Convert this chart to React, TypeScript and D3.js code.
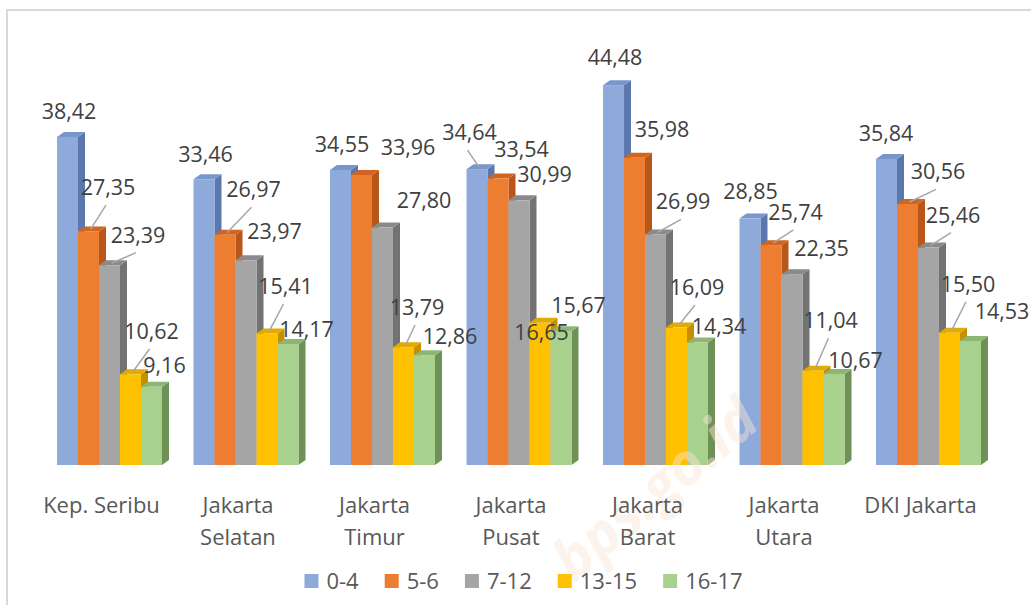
import React from "react";
import * as d3 from "d3";

const categories = ["Kep. Seribu", "Jakarta\nSelatan", "Jakarta\nTimur", "Jakarta\nPusat", "Jakarta\nBarat", "Jakarta\nUtara", "DKI Jakarta"];
const seriesNames = ["0-4", "5-6", "7-12", "13-15", "16-17"];
const s04 = [38.42, 33.46, 34.55, 34.64, 44.48, 28.85, 35.84];
const s56 = [27.35, 26.97, 33.96, 33.54, 35.98, 25.74, 30.56];
const s712 = [23.39, 23.97, 27.8, 30.99, 26.99, 22.35, 25.46];
const s1315 = [10.62, 15.41, 13.79, 16.65, 16.09, 11.04, 15.5];
const s1617 = [9.16, 14.17, 12.86, 15.67, 14.34, 10.67, 14.53];
const seriesValues = [s04, s56, s712, s1315, s1617];

// label placement offsets (relative to bar top centre) and leader-line flags
const labelOffsets: number[][][] = [
  [[1.5, -17.6], [19.5, -36.4], [28.5, -22.6], [21, -35.3], [13, -14]],
  [[1.5, -17.6], [28.5, -37.4], [28.5, -21], [18.5, -39.4], [18.5, -7.3]],
  [[1.5, -18], [46.5, -20], [41.5, -19.3], [13.5, -32.2], [25.5, -11.2]],
  [[-7.5, -29], [23.5, -22], [25.5, -18.6], [1.5, 17.2], [17.5, -18]],
  [[1.5, -20], [27.5, -20.4], [27.5, -25.2], [20.5, -32.6], [21.5, -8.2]],
  [[0.5, -19.3], [24.5, -25.2], [29.5, -18.1], [17.5, -42.4], [21.5, -5.6]],
  [[-0.5, -18.2], [30.5, -24.7], [24.5, -24.9], [18.5, -40.9], [31.5, -21.6]],
];
const leaders = [
  [0, 1, 1, 1, 0],
  [0, 1, 0, 1, 0],
  [0, 0, 0, 1, 0],
  [1, 0, 0, 0, 0],
  [0, 0, 1, 1, 0],
  [0, 1, 0, 1, 0],
  [0, 1, 1, 1, 0],
];

const fronts = ["#8eaadb", "#ed7d31", "#a5a5a5", "#ffc000", "#a9d18e"];
const sides = ["#5a78ae", "#b9561a", "#737373", "#c49000", "#6f9158"];
const tops = ["#7896cc", "#d2641f", "#8a8a8a", "#e3aa00", "#8db673"];

const W = 1031;
const H = 605;
const FONT = "'Open Sans', 'DejaVu Sans', sans-serif";
const DX = 7;
const DY = -5;

function measure(text: string, size: number): number {
  try {
    const c = document.createElement("canvas");
    const ctx = c.getContext("2d");
    if (ctx) {
      ctx.font = `${size}px 'Open Sans'`;
      return ctx.measureText(text).width;
    }
  } catch (e) {}
  return text.length * size * 0.55;
}

export default function App() {
  const step = 136.5;
  const x0 = d3
    .scaleBand<string>()
    .domain(categories)
    .range([41.25, 41.25 + step * categories.length])
    .paddingInner(31.5 / step)
    .paddingOuter(31.5 / step / 2);
  const x1 = d3
    .scaleBand<string>()
    .domain(seriesNames)
    .range([0, x0.bandwidth()])
    .padding(0);
  const y = d3.scaleLinear().domain([0, 50]).range([465, 465 - 50 * 8.54]);

  const legendSize = 22;
  const items = seriesNames.map((n) => 14 + 8 + measure(n, legendSize));
  const gap = 26;
  const totalLegend = d3.sum(items) + gap * (items.length - 1);
  const legendStart = 523.5 - totalLegend / 2;
  const legendX: number[] = [];
  let acc = legendStart;
  items.forEach((w) => {
    legendX.push(acc);
    acc += w + gap;
  });

  const bars: React.ReactNode[] = [];
  const labels: React.ReactNode[] = [];
  categories.forEach((cat, g) => {
    const gx = x0(cat) as number;
    seriesNames.forEach((sn, s) => {
      const v = seriesValues[s][g];
      const bx = gx + (x1(sn) as number);
      const bw = x1.bandwidth();
      const top = y(v);
      const base = y(0);
      const xr = bx + bw;
      bars.push(
        <g key={`b-${g}-${s}`}>
          <polygon
            points={`${xr},${top} ${xr + DX},${top + DY} ${xr + DX},${base + DY} ${xr},${base}`}
            fill={sides[s]}
          />
          <polygon
            points={`${bx},${top} ${xr},${top} ${xr + DX},${top + DY} ${bx + DX},${top + DY}`}
            fill={tops[s]}
          />
          <rect x={bx} y={top} width={bw} height={base - top} fill={fronts[s]} />
        </g>
      );
      const cx = bx + bw / 2;
      const [odx, ody] = labelOffsets[g][s];
      const lx = cx + odx;
      const ly = top + ody;
      if (leaders[g][s]) {
        labels.push(
          <line
            key={`l-${g}-${s}`}
            x1={lx - 2}
            y1={ly + 10}
            x2={cx + 2}
            y2={top - 2}
            stroke="#a6a6a6"
            strokeWidth={1.5}
          />
        );
      }
      labels.push(
        <text
          key={`t-${g}-${s}`}
          x={lx}
          y={ly}
          textAnchor="middle"
          fontFamily={FONT}
          fontSize={21.5}
          fill="#404040"
        >
          {v.toFixed(2).replace(".", ",")}
        </text>
      );
    });
  });

  return (
    <svg
      width={W}
      height={H}
      style={{ position: "absolute", left: 0, top: 0, background: "#ffffff" }}
    >
      <rect x={0} y={0} width={W} height={H} fill="#ffffff" />
      <rect x={7} y={10} width={W + 20} height={H + 20} fill="none" stroke="#d9d9d9" strokeWidth={2} />
      {bars}
      <text
        x={668}
        y={505}
        transform="rotate(-40 668 505)"
        textAnchor="middle"
        fontFamily={FONT}
        fontSize={58}
        fontWeight="bold"
        fontStyle="italic"
        fill="#fbe6d8"
        opacity={0.45}
      >
        bps.go.id
      </text>
      {labels}
      {categories.map((cat) => {
        const cx = (x0(cat) as number) + x0.bandwidth() / 2 - 8;
        return (
          <text
            key={`c-${cat}`}
            textAnchor="middle"
            fontFamily={FONT}
            fontSize={22}
            fill="#595959"
          >
            {cat.split("\n").map((line, i) => (
              <tspan key={i} x={cx} y={513 + i * 32}>
                {line}
              </tspan>
            ))}
          </text>
        );
      })}
      {seriesNames.map((n, i) => (
        <g key={`lg-${n}`}>
          <rect x={legendX[i]} y={574} width={14} height={14} fill={fronts[i]} />
          <text
            x={legendX[i] + 22}
            y={589}
            fontFamily={FONT}
            fontSize={legendSize}
            fill="#595959"
          >
            {n}
          </text>
        </g>
      ))}
    </svg>
  );
}
